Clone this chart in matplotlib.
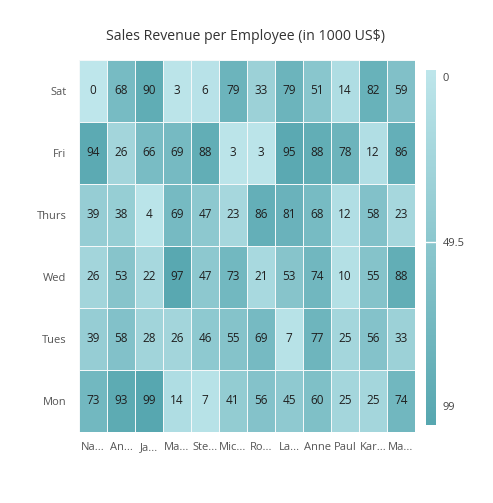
import numpy as np
import matplotlib
matplotlib.use("Agg")
import matplotlib.pyplot as plt
from matplotlib.colors import LinearSegmentedColormap

# Data
days = ["Sat", "Fri", "Thurs", "Wed", "Tues", "Mon"]
employees = ["Na...", "An...", "Ja...", "Ma...", "Ste...", "Mic...",
             "Ro...", "La...", "Anne", "Paul", "Kar...", "Ma..."]
sat = [0, 68, 90, 3, 6, 79, 33, 79, 51, 14, 82, 59]
fri = [94, 26, 66, 69, 88, 3, 3, 95, 88, 78, 12, 86]
thurs = [39, 38, 4, 69, 47, 23, 86, 81, 68, 12, 58, 23]
wed = [26, 53, 22, 97, 47, 73, 21, 53, 74, 10, 55, 88]
tues = [39, 58, 28, 26, 46, 55, 69, 7, 77, 25, 56, 33]
mon = [73, 93, 99, 14, 7, 41, 56, 45, 60, 25, 25, 74]
legend_ticks = [0, 49.5, 99]

values = np.array([sat, fri, thurs, wed, tues, mon])
vmin, vmax = values.min(), values.max()

plt.rcParams['font.family'] = ['Open Sans', 'DejaVu Sans']
cmap = LinearSegmentedColormap.from_list("teal", ["#BEE6EB", "#57A7B0"])

W, H = 493, 503
fig = plt.figure(figsize=(W / 100, H / 100), dpi=100)

ax = fig.add_axes([79 / W, 1 - 432 / H, 336 / W, 372 / H])
ax.pcolormesh(values, cmap=cmap, vmin=vmin, vmax=vmax,
              edgecolors="#f4f8f9", linewidth=0.6)
ax.set_xlim(0, len(employees))
ax.set_ylim(len(days), 0)
for r in range(len(days)):
    for c in range(len(employees)):
        ax.text(c + 0.5, r + 0.5, str(values[r, c]), ha="center", va="center",
                fontsize=8.5, color="#1f1f1f")

ax.set_xticks(np.arange(len(employees)) + 0.5)
ax.set_xticklabels(employees, fontsize=8, color="#555555")
ax.set_yticks(np.arange(len(days)) + 0.5)
ax.set_yticklabels(days, fontsize=8, color="#555555")
ax.tick_params(length=0, pad=7)
ax.tick_params(axis="y", pad=9)
for s in ax.spines.values():
    s.set_visible(False)

fig.text(245 / W, 1 - 36 / H, "Sales Revenue per Employee (in 1000 US$)",
         ha="center", va="center", fontsize=10.2, color="#333333")

# Legend bar
cax = fig.add_axes([426 / W, 1 - 425 / H, 10 / W, 355 / H])
grad = np.linspace(vmin, vmax, 256).reshape(-1, 1)
cax.imshow(grad, cmap=cmap, aspect="auto", extent=[0, 1, 104.7, -2.1],
           vmin=vmin, vmax=vmax)
cax.set_ylim(104.7, -2.1)
cax.set_xlim(0, 1)
cax.axhline(49.5, color="white", linewidth=1)
cax.set_xticks([])
cax.yaxis.tick_right()
cax.set_yticks(legend_ticks)
cax.set_yticklabels(["0", "49.5", "99"], fontsize=8, color="#444444")
cax.tick_params(length=0, pad=5)
for s in cax.spines.values():
    s.set_visible(False)

fig.savefig("out.png", dpi=100, facecolor="white")
